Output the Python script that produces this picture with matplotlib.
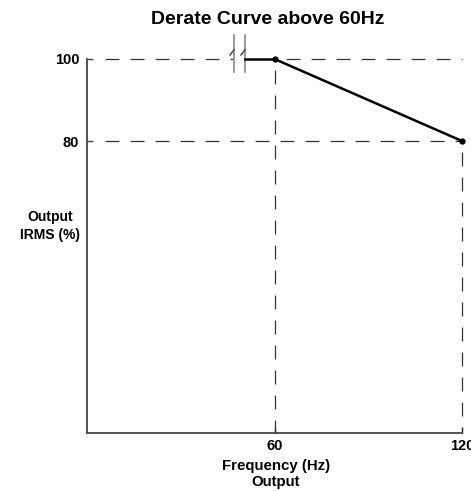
import matplotlib
matplotlib.use("Agg")
import matplotlib.pyplot as plt

plt.rcParams['font.family'] = ['Liberation Sans', 'DejaVu Sans']
plt.rcParams['font.weight'] = 'bold'
plt.rcParams['lines.scale_dashes'] = False

# Data
curve_freq = [60, 120]
curve_irms = [100, 80]
break_freq = [47.1, 50.6]
x_ticks = [60, 120]
x_tick_labels = ["60", "120"]
y_ticks = [80, 100]
y_tick_labels = ["80", "100"]
title = "Derate Curve above 60Hz"
x_label = "Frequency (Hz)\nOutput"
y_label = "Output\nIRMS (%)"

W, H = 471, 491
fig = plt.figure(figsize=(W / 100, H / 100), dpi=100)
left, right, bottom, top = 87, 462, 433, 59
ax = fig.add_axes([left / W, 1 - bottom / H, (right - left) / W, (bottom - top) / H])
ax.set_xlim(0, 120)
ax.set_ylim(8.8, 100)
for s in ['top', 'right']:
    ax.spines[s].set_visible(False)
for s in ['left', 'bottom']:
    ax.spines[s].set_color('#444444')
    ax.spines[s].set_linewidth(1.3)
ax.set_xticks(x_ticks)
ax.set_xticklabels(x_tick_labels, fontsize=10.5, fontweight='bold')
ax.set_yticks(y_ticks)
ax.set_yticklabels(y_tick_labels, fontsize=10.5, fontweight='bold')
ax.tick_params(axis='both', direction='in', length=4, width=1, color='#444444')
ax.tick_params(axis='x', pad=4)
ax.tick_params(axis='y', pad=5.5)

dash_kw = dict(color='#333333', linewidth=0.9, linestyle=(10, (10, 8)), clip_on=False)
x0 = 2.3
# horizontal guides
ax.plot([x0, break_freq[0] - 0.5], [curve_irms[0], curve_irms[0]], **dash_kw)
ax.plot([curve_freq[0], curve_freq[1]], [curve_irms[0], curve_irms[0]], **dash_kw)
ax.plot([x0, curve_freq[1]], [curve_irms[1], curve_irms[1]], **dash_kw)
# vertical guides
ax.plot([curve_freq[0], curve_freq[0]], [curve_irms[0], 8.8], **dash_kw)
ax.plot([curve_freq[1], curve_freq[1]], [curve_irms[1], 8.8], **dash_kw)

# break marks
for bx in break_freq:
    ax.plot([bx, bx], [96.8, 105.9], color='#888888', linewidth=1.2, clip_on=False)
    ax.plot([bx - 1.3, bx], [101.0, 102.3], color='#555555', linewidth=1.2, clip_on=False)

# solid segment and derate curve
ax.plot([break_freq[1], curve_freq[0]], [curve_irms[0], curve_irms[0]], color='black', linewidth=1.8,
        clip_on=False)
ax.plot(curve_freq, curve_irms, color='black', linewidth=1.8, marker='o', markersize=3.5, clip_on=False)

fig.text(268 / W, 1 - 20 / H, title, ha='center', va='center', fontsize=14, fontweight='bold')
fig.text(50 / W, 1 - 226 / H, y_label, ha='center', va='center', fontsize=10, fontweight='bold',
         linespacing=1.3)
fig.text(276 / W, 1 - 474 / H, x_label, ha='center', va='center', fontsize=10.8, fontweight='bold',
         linespacing=1.15)

fig.savefig("out.png", dpi=100)
